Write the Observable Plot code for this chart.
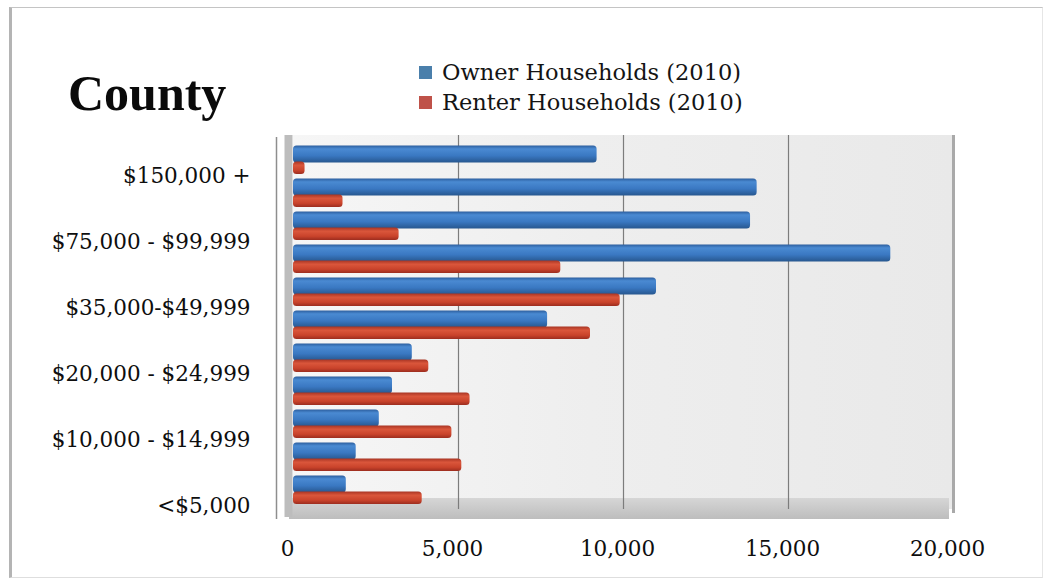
<!DOCTYPE html>
<html>
<head>
<meta charset="utf-8">
<script src="https://cdn.jsdelivr.net/npm/d3@7"></script>
<script src="https://cdn.jsdelivr.net/npm/@observablehq/plot@0.6"></script>
<style>
  html, body { margin: 0; padding: 0; background: #ffffff; }
  #wrap { position: relative; width: 1043px; height: 580px; overflow: hidden; background: #fff; }
  #border { position: absolute; left: 9px; top: 7px; width: 1030px; height: 569px;
            border-left: 3px solid #b4b4b4; border-top: 1px solid #c4c4c4;
            border-bottom: 1px solid #dedede; border-right: 1px solid #e6e6e6; }
  #title { position: absolute; left: 68px; top: 68px; font-family: "Liberation Serif", serif;
           font-weight: bold; font-size: 50px; line-height: 1; color: #0a0a0a; }
  .leg { position: absolute; left: 419px; font-family: "DejaVu Serif", serif; font-size: 22.5px;
         line-height: 1; color: #141414; white-space: nowrap; }
  .leg .sw { display: inline-block; width: 13px; height: 13px; margin-right: 10px; vertical-align: 1px; }
  #chart { position: absolute; left: 0; top: 130px; }
</style>
</head>
<body>
<div id="wrap">
  <div id="border"></div>
  <div id="title">County</div>
  <div id="legend"></div>
  <div id="chart"></div>
</div>
<script>
// Income brackets, bottom to top
const categories = ["<$5,000", "$5,000 - $9,999", "$10,000 - $14,999", "$15,000 - $19,999",
  "$20,000 - $24,999", "$25,000 - $34,999", "$35,000-$49,999", "$50,000 - $74,999",
  "$75,000 - $99,999", "$100,000 - $149,999", "$150,000 +"];
const ownerValues  = [1600, 1900, 2600, 3000, 3600, 7700, 11000, 18100, 13850, 14050, 9200];
const renterValues = [3900, 5100, 4800, 5350, 4100, 9000, 9900, 8100, 3200, 1500, 350];
const seriesNames = ["Owner Households (2010)", "Renter Households (2010)"];
const seriesColors = ["#4a7fab", "#bf5249"];
const yTickLabels = ["<$5,000", "$10,000 - $14,999", "$20,000 - $24,999", "$35,000-$49,999",
  "$75,000 - $99,999", "$150,000 +"];
const xTicks = [0, 5000, 10000, 15000, 20000];
const gridTicks = [5000, 10000, 15000];

const rows = categories.map((c, i) => ({cat: c, owner: ownerValues[i], renter: renterValues[i]}));

// legend
const legend = document.getElementById("legend");
seriesNames.forEach((name, i) => {
  const d = document.createElement("div");
  d.className = "leg";
  d.style.top = (61 + i * 30) + "px";
  d.innerHTML = `<span class="sw" style="background:${seriesColors[i]}"></span>${name}`;
  legend.appendChild(d);
});

const xMin = xTicks[0], xMax = xTicks[xTicks.length - 1];

const chart = Plot.plot({
  width: 1043,
  height: 450,
  marginLeft: 293,
  marginRight: 90,
  marginTop: 11,
  marginBottom: 71,
  style: {fontFamily: "DejaVu Serif", fontSize: "21.5px", color: "#0e0e0e", background: "transparent", overflow: "visible"},
  x: {domain: [xMin, xMax], label: null},
  y: {domain: categories.slice().reverse(), padding: 0, label: null},
  marks: [
    // back wall
    Plot.rect([0], {x1: () => xMin, x2: () => xMax, fill: "url(#gWall)", insetTop: -6}),
    // floor
    Plot.barX([0], {x1: () => xMin, x2: () => xMax, y: () => categories[0], fill: "url(#gFloor)",
      insetTop: 24, insetBottom: -12, dx: -4}),
    // grid lines on back wall
    Plot.ruleX(gridTicks, {stroke: "#7c7c7c", strokeWidth: 1.2, insetTop: -6}),
    Plot.ruleX([xMax], {stroke: "#a9a9a9", strokeWidth: 3, insetTop: -6, insetBottom: -4}),
    // left wall
    Plot.ruleX([xMin], {stroke: "#bdbdbd", strokeWidth: 8, dx: -5, insetTop: -6, insetBottom: -8}),
    Plot.ruleX([xMin], {stroke: "#8e8e8e", strokeWidth: 1.5, dx: -17, insetTop: -4, insetBottom: -10}),
    // bars
    Plot.barX(rows, {x: "owner", y: "cat", fill: "url(#gOwner)", insetTop: 1.5, insetBottom: 14.5, rx: 3.5}),
    Plot.barX(rows, {x: "renter", y: "cat", fill: "url(#gRenter)", insetTop: 17.5, insetBottom: 3, rx: 3.5}),
    // axes
    Plot.axisY({ticks: yTickLabels, tickSize: 0, tickPadding: 43, dy: 15, label: null}),
    Plot.axisX({ticks: xTicks, tickFormat: d3.format(","), tickSize: 0, tickPadding: 31, dx: -6, label: null})
  ]
});

// gradients for a shaded look
const ns = "http://www.w3.org/2000/svg";
const defs = document.createElementNS(ns, "defs");
function grad(id, stops, vertical = true) {
  const g = document.createElementNS(ns, "linearGradient");
  g.setAttribute("id", id);
  g.setAttribute("x1", "0"); g.setAttribute("y1", "0");
  g.setAttribute("x2", vertical ? "0" : "1"); g.setAttribute("y2", vertical ? "1" : "0");
  stops.forEach(([o, c]) => {
    const s = document.createElementNS(ns, "stop");
    s.setAttribute("offset", o); s.setAttribute("stop-color", c);
    g.appendChild(s);
  });
  defs.appendChild(g);
}
grad("gOwner", [["0", "#2c5e9e"], ["0.2", "#4a8ad2"], ["0.6", "#3a78c2"], ["1", "#27578f"]]);
grad("gRenter", [["0", "#a83524"], ["0.3", "#da563b"], ["0.7", "#c9432b"], ["1", "#9c2d1f"]]);
grad("gWall", [["0", "#f6f6f6"], ["0.45", "#eeeeee"], ["1", "#e9e9e9"]], false);
grad("gFloor", [["0", "#d6d6d6"], ["1", "#bdbdbd"]]);
chart.insertBefore(defs, chart.firstChild);

document.getElementById("chart").appendChild(chart);
</script>
</body>
</html>
